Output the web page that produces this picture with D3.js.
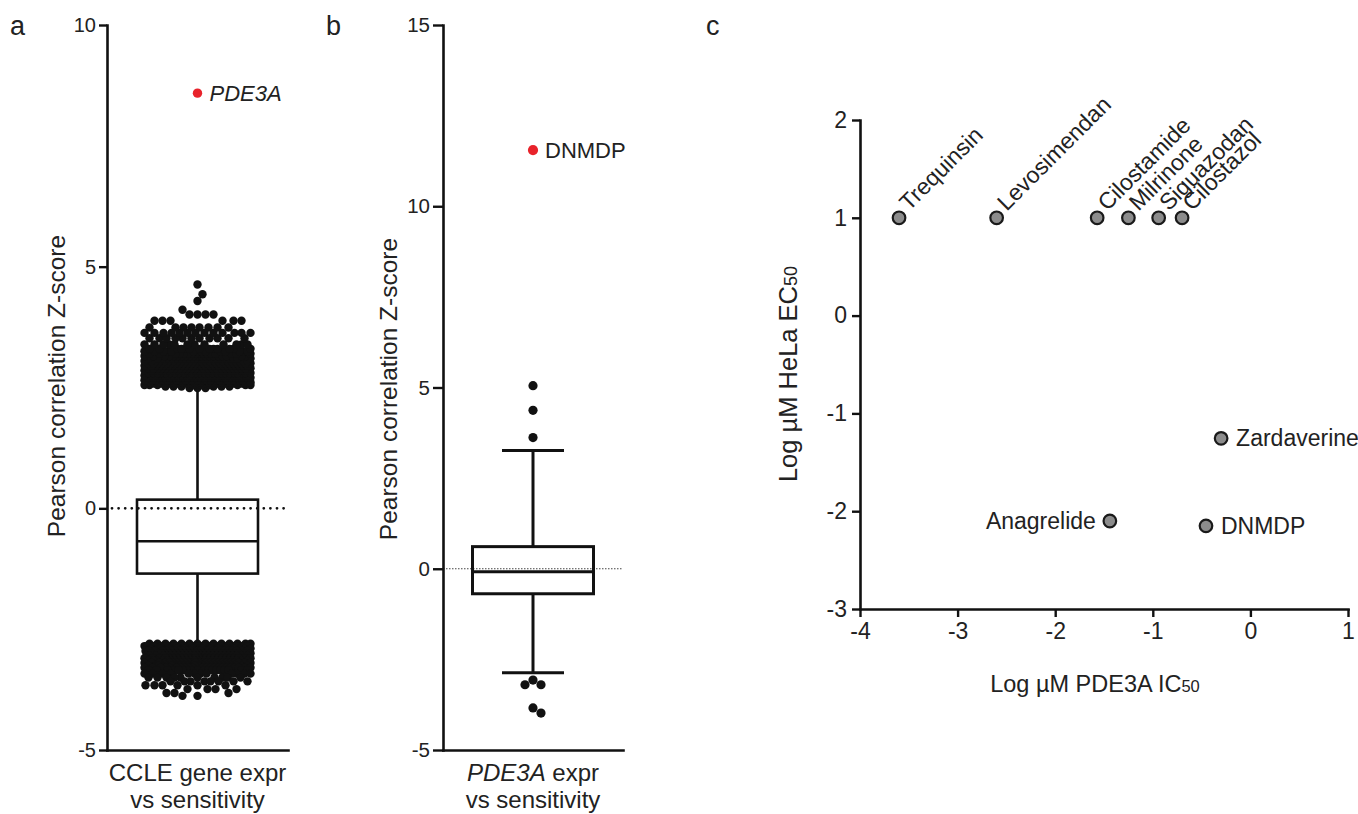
<!DOCTYPE html>
<html>
<head>
<meta charset="utf-8">
<script src="https://cdn.jsdelivr.net/npm/d3@7"></script>
<style>
  body { margin: 0; background: #fff; }
  svg text { font-family: "Liberation Sans", Arial, Helvetica, sans-serif; fill: #222; }
</style>
</head>
<body>
<svg id="fig" width="1358" height="814"></svg>
<script>
// ---- panel a: CCLE gene expression vs sensitivity (Z-scores) ----
const aTicks = [-5, 0, 5, 10];
// whisker low, Q1, median, Q3, whisker high
const aBox = [-2.82, -1.35, -0.68, 0.18, 2.48];
// outlier genes, binned by Z-score with approximate counts
const aHighZ = [2.49, 2.52, 2.55, 2.58, 2.61, 2.65, 2.70, 2.75, 2.80, 2.85, 2.90, 2.95, 3.00, 3.05, 3.10, 3.15, 3.20, 3.25,
                3.30, 3.39, 3.52, 3.63, 3.74, 3.88, 4.01, 4.11, 4.29, 4.43, 4.63];
const aHighN = [3, 6, 9, 12, 16, 22, 25, 25, 25, 25, 25, 25, 25, 25, 22, 20, 16, 14,
                13, 12, 11, 13, 8, 6, 4, 1, 1, 1, 1];
const aLowZ = [-2.80, -2.85, -2.90, -2.95, -3.00, -3.05, -3.10, -3.15, -3.20, -3.25, -3.30, -3.35,
               -3.42, -3.50, -3.58, -3.66, -3.74, -3.82, -3.88];
const aLowN = [14, 25, 25, 25, 25, 25, 25, 25, 25, 25, 22, 18,
               12, 10, 8, 6, 4, 3, 2];
const aHit = { name: "PDE3A", z: 8.59 };

// ---- panel b: PDE3A expression vs compound sensitivity ----
const bTicks = [-5, 0, 5, 10, 15];
const bBox = [-2.87, -0.69, -0.08, 0.61, 3.26];
const bOutliers = [3.62, 4.37, 5.05, -3.07, -3.2, -3.2, -3.84, -3.98];
const bHit = { name: "DNMDP", z: 11.55 };

// ---- panel c: PDE3A IC50 vs HeLa EC50 ----
const cXTicks = [-4, -3, -2, -1, 0, 1];
const cYTicks = [-3, -2, -1, 0, 1, 2];
const cNames = ["Trequinsin", "Levosimendan", "Cilostamide", "Milrinone", "Siguazodan", "Cilostazol",
                "Zardaverine", "Anagrelide", "DNMDP"];
const cIC50 = [-3.6, -2.6, -1.57, -1.25, -0.94, -0.70, -0.30, -1.44, -0.455];
const cEC50 = [1, 1, 1, 1, 1, 1, -1.255, -2.10, -2.15];
const cLabelSide = ["up", "up", "up", "up", "up", "up", "right", "left", "right"];

const svg = d3.select("#fig");
const ink = "#111";
const plain = d => String(d);

// simple beeswarm: each dot goes to the nearest free x offset, overlapping when the row is full
function swarm(values, y, cx, r, halfW) {
  const placed = [];
  values.forEach(v => {
    const py = y(v);
    const near = placed.filter(p => Math.abs(p.y - py) < 2 * r);
    let best = 0, bestD = -1;
    for (let k = 0; k <= halfW; k += 1) {
      let done = false;
      for (const sx of (k === 0 ? [0] : [k, -k])) {
        let minD = Infinity;
        for (const p of near) {
          const d = Math.hypot(p.x - sx, p.y - py);
          if (d < minD) minD = d;
        }
        if (minD >= 2 * r - 0.4) { best = sx; done = true; break; }
        if (minD > bestD) { bestD = minD; best = sx; }
      }
      if (done) break;
    }
    placed.push({ x: best, y: py, v: v });
  });
  return placed.map(p => ({ x: cx + p.x, y: p.y, v: p.v }));
}

function expand(zs, ns) {
  return zs.flatMap((z, i) => d3.range(ns[i]).map(() => z));
}

function styleAxis(g, fs) {
  g.select(".domain").attr("stroke", ink).attr("stroke-width", 2.6).attr("stroke-linecap", "square");
  g.selectAll(".tick line").attr("stroke", ink).attr("stroke-width", 2.4);
  g.selectAll(".tick text").style("font-size", fs + "px").attr("fill", "#222");
}

function boxPanel(opt) {
  const y = d3.scaleLinear().domain(opt.domain).range([750, 25]);
  const x = d3.scalePoint().domain(["g"]).range([opt.x0, opt.x1]).padding(0.5);
  const cx = x("g");
  const g = svg.append("g");

  // zero reference line
  g.append("line")
    .attr("x1", opt.x0 + opt.zeroInset).attr("x2", opt.x1)
    .attr("y1", y(0)).attr("y2", y(0))
    .attr("stroke", opt.zeroColor).attr("stroke-width", opt.zeroWidth)
    .attr("stroke-dasharray", opt.zeroDash).attr("stroke-linecap", opt.zeroCap);

  const [wLo, q1, med, q3, wHi] = opt.box;
  const bw = opt.boxW;
  g.append("line").attr("x1", cx).attr("x2", cx).attr("y1", y(q3)).attr("y2", y(wHi))
    .attr("stroke", ink).attr("stroke-width", opt.lw);
  g.append("line").attr("x1", cx).attr("x2", cx).attr("y1", y(q1)).attr("y2", y(wLo))
    .attr("stroke", ink).attr("stroke-width", opt.lw);
  if (opt.capW) {
    [wLo, wHi].forEach(w => g.append("line")
      .attr("x1", cx - opt.capW / 2).attr("x2", cx + opt.capW / 2)
      .attr("y1", y(w)).attr("y2", y(w))
      .attr("stroke", ink).attr("stroke-width", opt.lw));
  }
  g.append("rect").attr("x", cx - bw / 2).attr("width", bw)
    .attr("y", y(q3)).attr("height", y(q1) - y(q3))
    .attr("fill", "none").attr("stroke", ink).attr("stroke-width", opt.lw);
  g.append("line").attr("x1", cx - bw / 2).attr("x2", cx + bw / 2)
    .attr("y1", y(med)).attr("y2", y(med))
    .attr("stroke", ink).attr("stroke-width", opt.lw);

  // outliers
  const hi = opt.outliers.filter(v => v > 0).sort(d3.ascending);
  const lo = opt.outliers.filter(v => v < 0).sort(d3.descending);
  const dots = swarm(hi, y, cx, opt.r, opt.halfW).concat(swarm(lo, y, cx, opt.r, opt.halfW));
  g.selectAll("circle.out").data(dots).join("circle")
    .attr("class", "out")
    .attr("cx", d => d.x).attr("cy", d => d.y).attr("r", opt.r)
    .attr("fill", ink);

  // highlighted hit
  g.append("circle").attr("cx", cx).attr("cy", y(opt.hit.z)).attr("r", opt.r + 0.5).attr("fill", "#e8232b");
  g.append("text").attr("x", cx + 12).attr("y", y(opt.hit.z) + 8)
    .style("font-size", "22px").style("font-style", opt.hitItalic ? "italic" : "normal")
    .text(opt.hit.name);

  // axes
  const yAxis = g.append("g").attr("transform", `translate(${opt.x0},0)`)
    .call(d3.axisLeft(y).tickValues(opt.ticks).tickFormat(plain)
      .tickSize(opt.tick).tickSizeOuter(0).tickPadding(3));
  styleAxis(yAxis, opt.tickFs);
  const xAxis = g.append("g").attr("transform", `translate(0,750)`)
    .call(d3.axisBottom(x).tickSize(0).tickSizeOuter(0).tickFormat(""));
  styleAxis(xAxis, opt.tickFs);

  // category label (two lines)
  const t1 = g.append("text").attr("x", cx).attr("y", 781).attr("text-anchor", "middle").style("font-size", "24px");
  opt.label1.forEach(([s, it]) => t1.append("tspan").style("font-style", it ? "italic" : "normal").text(s));
  g.append("text").attr("x", cx).attr("y", 808).attr("text-anchor", "middle").style("font-size", "24px")
    .text("vs sensitivity");

  // y title
  g.append("text")
    .attr("transform", `translate(${opt.titleX},${opt.titleY}) rotate(-90)`)
    .attr("text-anchor", "middle").style("font-size", "24.5px")
    .text("Pearson correlation Z-score");

  svg.append("text").attr("x", opt.letterX).attr("y", 35).style("font-size", "27px").text(opt.letter);
}

boxPanel({
  letter: "a", letterX: 10,
  domain: [-5, 10], ticks: aTicks, x0: 107, x1: 288,
  box: aBox, boxW: 121, capW: 0, lw: 2.6,
  outliers: expand(aHighZ, aHighN).concat(expand(aLowZ, aLowN)),
  r: 4.2, halfW: 53, hit: aHit, hitItalic: true,
  zeroInset: 5, zeroColor: ink, zeroWidth: 2.8, zeroDash: "0,6.6", zeroCap: "round",
  tick: 8, tickFs: 20,
  label1: [["CCLE gene expr", false]],
  titleX: 65, titleY: 386
});

boxPanel({
  letter: "b", letterX: 326,
  domain: [-5, 15], ticks: bTicks, x0: 443, x1: 623,
  box: bBox, boxW: 121, capW: 62, lw: 3,
  outliers: bOutliers,
  r: 4.6, halfW: 40, hit: bHit, hitItalic: false,
  zeroInset: 0, zeroColor: "#444", zeroWidth: 1, zeroDash: "1.5,1.5", zeroCap: "butt",
  tick: 10, tickFs: 20.5,
  label1: [["PDE3A", true], [" expr", false]],
  titleX: 397, titleY: 389
});

// ---- panel c ----
{
  const x = d3.scaleLinear().domain([-4, 1]).range([860, 1348]);
  const y = d3.scaleLinear().domain([-3, 2]).range([609, 120]);
  const g = svg.append("g");

  const xAxis = g.append("g").attr("transform", `translate(0,${y(-3)})`)
    .call(d3.axisBottom(x).tickValues(cXTicks).tickFormat(plain).tickSize(8).tickSizeOuter(0).tickPadding(6));
  styleAxis(xAxis, 23);
  const yAxis = g.append("g").attr("transform", `translate(${x(-4)},0)`)
    .call(d3.axisLeft(y).tickValues(cYTicks).tickFormat(plain).tickSize(8).tickSizeOuter(0).tickPadding(5));
  styleAxis(yAxis, 23);

  const pts = cNames.map((n, i) => ({ name: n, x: cIC50[i], y: cEC50[i], side: cLabelSide[i] }));
  g.selectAll("circle.drug").data(pts).join("circle")
    .attr("class", "drug")
    .attr("cx", d => x(d.x)).attr("cy", d => y(d.y)).attr("r", 6.3)
    .attr("fill", "#8c8c8c").attr("stroke", "#1a1a1a").attr("stroke-width", 2.2);

  g.selectAll("text.drug").data(pts).join("text")
    .attr("class", "drug")
    .style("font-size", "23px")
    .attr("text-anchor", d => d.side === "left" ? "end" : "start")
    .attr("transform", d => {
      const px = x(d.x), py = y(d.y);
      if (d.side === "up") return `translate(${px + 10},${py - 6}) rotate(-45)`;
      if (d.side === "left") return `translate(${px - 14},${py + 8})`;
      return `translate(${px + 15},${py + 8})`;
    })
    .text(d => d.name);

  const xt = g.append("text").attr("x", 1095).attr("y", 692).attr("text-anchor", "middle").style("font-size", "23.5px");
  xt.append("tspan").text("Log µM PDE3A IC");
  xt.append("tspan").style("font-size", "16.5px").text("50");

  const yt = g.append("text").attr("transform", "translate(797,374) rotate(-90)")
    .attr("text-anchor", "middle").style("font-size", "25.5px");
  yt.append("tspan").text("Log µM HeLa EC");
  yt.append("tspan").style("font-size", "18px").text("50");

  svg.append("text").attr("x", 706).attr("y", 35).style("font-size", "27px").text("c");
}
</script>
</body>
</html>
